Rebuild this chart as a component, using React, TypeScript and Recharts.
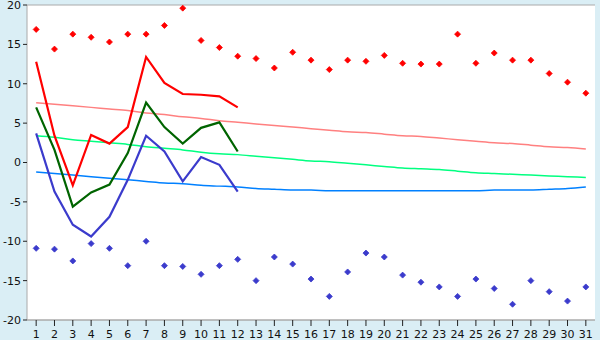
import { LineChart, Line, XAxis, YAxis, CartesianGrid } from "recharts";

const days = [
  1, 2, 3, 4, 5, 6, 7, 8, 9, 10, 11, 12, 13, 14, 15, 16, 17, 18, 19, 20, 21, 22, 23, 24, 25, 26, 27, 28, 29, 30, 31,
];

// record highs / lows (diamond markers)
const recordMax = [
  16.9, 14.4, 16.3, 15.9, 15.3, 16.3, 16.3, 17.4, 19.6, 15.5, 14.6, 13.5, 13.2, 12.0, 14.0, 13.0, 11.8, 13.0, 12.85,
  13.6, 12.6, 12.5, 12.5, 16.3, 12.6, 13.9, 13.0, 13.0, 11.3, 10.2, 8.8,
];
const recordMin = [
  -10.9, -11.0, -12.5, -10.3, -10.9, -13.1, -10.0, -13.1, -13.2, -14.2, -13.1, -12.3, -15.0, -12.0, -12.9, -14.8, -17.0,
  -13.9, -11.5, -12.0, -14.3, -15.2, -15.8, -17.0, -14.8, -16.0, -18.0, -15.0, -16.4, -17.6, -15.8,
];

// this month (first 12 days)
const maxTemp = [12.8, 3.4, -2.9, 3.5, 2.4, 4.5, 13.4, 10.1, 8.7, 8.6, 8.4, 7.0];
const meanTemp = [7.0, 1.6, -5.6, -3.8, -2.8, 1.2, 7.6, 4.5, 2.4, 4.4, 5.1, 1.4];
const minTemp = [3.7, -3.7, -7.9, -9.4, -6.9, -2.2, 3.4, 1.4, -2.4, 0.7, -0.3, -3.7];

// long-term normals
const normMax = [
  7.6, 7.4, 7.2, 7.0, 6.8, 6.6, 6.3, 6.1, 5.8, 5.6, 5.3, 5.1, 4.9, 4.7, 4.5, 4.3, 4.1, 3.9, 3.8, 3.6, 3.4, 3.3, 3.1, 2.9,
  2.7, 2.5, 2.4, 2.2, 2.0, 1.9, 1.7,
];
const normMean = [
  3.4, 3.2, 2.9, 2.7, 2.5, 2.3, 2.0, 1.8, 1.6, 1.3, 1.1, 1.0, 0.8, 0.6, 0.4, 0.2, 0.1, -0.1, -0.3, -0.5, -0.7, -0.8,
  -0.9, -1.1, -1.3, -1.4, -1.5, -1.6, -1.7, -1.8, -1.9,
];
const normMin = [
  -1.2, -1.4, -1.6, -1.8, -2.0, -2.2, -2.4, -2.6, -2.7, -2.9, -3.0, -3.1, -3.3, -3.4, -3.5, -3.5, -3.6, -3.6, -3.6,
  -3.6, -3.6, -3.6, -3.6, -3.6, -3.6, -3.5, -3.5, -3.5, -3.4, -3.3, -3.1,
];

const yTicks = [-20, -15, -10, -5, 0, 5, 10, 15, 20];

const data = days.map((d, i) => ({
  day: d,
  rmax: recordMax[i],
  rmin: recordMin[i],
  tmax: i < maxTemp.length ? maxTemp[i] : null,
  tmean: i < meanTemp.length ? meanTemp[i] : null,
  tmin: i < minTemp.length ? minTemp[i] : null,
  nmax: normMax[i],
  nmean: normMean[i],
  nmin: normMin[i],
}));

const diamond = (color: string) => (props: any) => {
  const { cx, cy, index } = props;
  if (cx == null || cy == null) return <g key={index} />;
  const r = 3;
  return (
    <polygon
      key={index}
      points={`${cx},${cy - r} ${cx + r},${cy} ${cx},${cy + r} ${cx - r},${cy}`}
      fill={color}
      stroke={color}
      strokeWidth={0.8}
    />
  );
};

const tickStyle = { fill: "#111", fontSize: 11, fontFamily: "DejaVu Sans" };

export default function App() {
  return (
    <div style={{ width: 600, height: 340, background: "#daeef5" }}>
      <style>{"body{margin:0}"}</style>
      <LineChart width={600} height={340} data={data} margin={{ top: 5, right: 5, left: 0, bottom: 0 }}>
        <CartesianGrid vertical={false} stroke="#aaaaaa" fill="#ffffff" fillOpacity={1} />
        <XAxis
          dataKey="day"
          type="number"
          domain={[0.5, 31.5]}
          ticks={days}
          interval={0}
          height={20}
          tick={tickStyle}
          tickSize={6}
          tickMargin={4}
          axisLine={{ stroke: "#aaaaaa" }}
          tickLine={{ stroke: "#222" }}
        />
        <YAxis
          yAxisId="left"
          domain={[-20, 20]}
          ticks={yTicks}
          interval={0}
          width={27}
          tick={tickStyle}
          tickSize={4}
          tickMargin={2}
          tickLine={{ stroke: "#222" }}
          axisLine={{ stroke: "#aaaaaa" }}
        />
        <YAxis
          yAxisId="right"
          orientation="right"
          domain={[-20, 20]}
          width={0}
          tick={false}
          tickLine={false}
          axisLine={{ stroke: "#aaaaaa" }}
        />
        <Line yAxisId="left" dataKey="nmax" type="monotone" stroke="#ff8080" strokeWidth={1.5} dot={false} isAnimationActive={false} />
        <Line yAxisId="left" dataKey="nmean" type="monotone" stroke="#00ff80" strokeWidth={1.5} dot={false} isAnimationActive={false} />
        <Line yAxisId="left" dataKey="nmin" type="monotone" stroke="#0080ff" strokeWidth={1.5} dot={false} isAnimationActive={false} />
        <Line yAxisId="left" dataKey="tmin" stroke="#3b3bcc" strokeWidth={2.2} dot={false} isAnimationActive={false} />
        <Line yAxisId="left" dataKey="tmean" stroke="#006400" strokeWidth={2.2} dot={false} isAnimationActive={false} />
        <Line yAxisId="left" dataKey="tmax" stroke="#ff0000" strokeWidth={2.2} dot={false} isAnimationActive={false} />
        <Line yAxisId="left" dataKey="rmax" stroke="none" dot={diamond("#ff0000")} activeDot={false} isAnimationActive={false} />
        <Line yAxisId="left" dataKey="rmin" stroke="none" dot={diamond("#3b3bcc")} activeDot={false} isAnimationActive={false} />
      </LineChart>
    </div>
  );
}
